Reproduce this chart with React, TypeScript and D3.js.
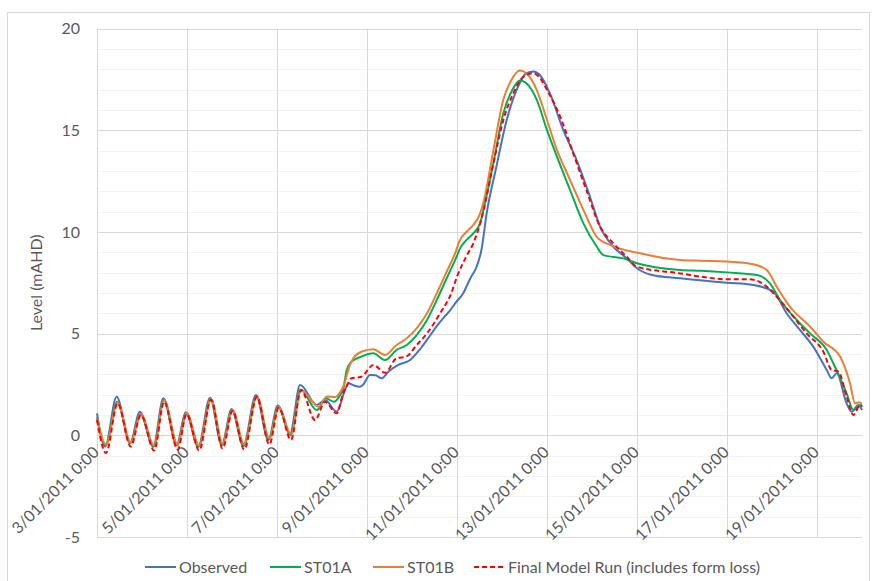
import React, { useEffect, useRef } from 'react';
import * as d3 from 'd3';

// x values are hours since 3/01/2011 0:00, y values are level in mAHD
const dateTicks = [
  '3/01/2011 0:00', '5/01/2011 0:00', '7/01/2011 0:00', '9/01/2011 0:00', '11/01/2011 0:00',
  '13/01/2011 0:00', '15/01/2011 0:00', '17/01/2011 0:00', '19/01/2011 0:00',
];
const tickHours = [0, 48, 96, 144, 192, 240, 288, 336, 384];
const levelTicks = [-5, 0, 5, 10, 15, 20];

const observed: [number, number][] = [
  [0, 1.08], [4.3, -0.56], [10.5, 1.9], [17.6, -0.38], [22.9, 1.16], [30, -0.56], [35.4, 1.82],
  [42.5, -0.48], [47.3, 1.13], [54, -0.56], [60.3, 1.85], [66.5, -0.48], [71.8, 1.29], [78, -0.51],
  [84.8, 1.98], [91.4, -0.23], [96.4, 1.46], [103, 0.1], [108.3, 2.47], [117.2, 1.49], [121.6, 1.74],
  [127.8, 1.16], [132.3, 2.23], [134, 2.56], [137, 2.45], [140.3, 2.39], [142, 2.5], [145.6, 2.96],
  [148.5, 2.95], [151.8, 2.8], [155.4, 3.13], [160.7, 3.46], [167, 3.7], [172, 4.2], [176, 4.69],
  [181, 5.34], [185, 5.8], [188, 6.1], [191, 6.49], [195.4, 7.0], [199, 7.7], [202.5, 8.3],
  [205, 9.1], [207.8, 10.9], [213, 13.2], [218.5, 15.5], [223.8, 16.98], [229, 17.8], [232.7, 17.88],
  [236.3, 17.7], [241.6, 16.8], [248.7, 15.0], [255.8, 13.53], [262.9, 11.73], [268.3, 10.26],
  [275.4, 9.27], [282.5, 8.7], [288, 8.21], [296, 7.88], [311, 7.72], [336, 7.5], [350, 7.39],
  [360.7, 7.06], [367.8, 6.0], [374.9, 5.18], [382, 4.36], [389.2, 3.21], [391.8, 2.8], [394.5, 3.05],
  [399.8, 1.57], [402.5, 1.16], [406, 1.49], [408, 1.24],
];

const st01a: [number, number][] = [
  [0, 0.88], [4.6, -0.5], [10.8, 1.65], [17.8, -0.38], [23.2, 1.05], [30.3, -0.55], [35.6, 1.75],
  [42.8, -0.5], [47.6, 1.1], [54.3, -0.55], [60.6, 1.8], [66.8, -0.45], [72.1, 1.25], [78.3, -0.5],
  [85.1, 1.92], [91.7, -0.2], [96.7, 1.42], [103.3, 0.0], [108.6, 2.25], [117.2, 1.24], [122, 1.82],
  [126.5, 1.65], [129.5, 1.95], [131.4, 2.3], [133.2, 3.21], [135.8, 3.62], [141, 3.87], [147.4, 4.03],
  [153.6, 3.7], [159.8, 4.2], [165.2, 4.44], [170.5, 4.93], [176, 5.67], [181.2, 6.65], [186.5, 7.72],
  [191.8, 8.78], [193.6, 9.19], [197, 9.6], [200.7, 9.93], [204.3, 10.42], [206.5, 11.24],
  [211.4, 13.37], [216.7, 15.83], [221.5, 16.98], [225.6, 17.44], [229, 17.31], [234.5, 16.5],
  [240, 15.0], [245.3, 13.7], [252.3, 12.06], [259.4, 10.42], [266.5, 9.28], [270, 8.86],
  [280.7, 8.7], [288, 8.46], [311, 8.13], [322, 8.09], [336, 8.01], [352, 7.88], [358.9, 7.47],
  [364.3, 6.65], [373.2, 5.67], [380.3, 5.01], [389.2, 4.19], [392.7, 3.54], [399.8, 2.06],
  [403.4, 1.24], [407, 1.49], [408, 1.45],
];

const st01b: [number, number][] = [
  [0, 0.83], [4.8, -0.45], [11, 1.6], [18, -0.35], [23.4, 1.05], [30.5, -0.5], [35.8, 1.72],
  [43, -0.45], [47.8, 1.1], [54.5, -0.5], [60.8, 1.78], [67, -0.42], [72.3, 1.25], [78.5, -0.45],
  [85.3, 1.9], [91.9, -0.15], [96.9, 1.4], [103.5, 0.05], [108.8, 2.2], [118.3, 1.4], [122.5, 1.9],
  [127, 1.88], [129.5, 2.1], [131.4, 2.4], [134.9, 3.46], [136.7, 3.79], [141, 4.11], [147.4, 4.23],
  [153.6, 3.95], [159.8, 4.44], [165.2, 4.77], [170.5, 5.26], [176, 6.0], [181.2, 6.98],
  [186.5, 8.04], [191, 8.95], [193.6, 9.6], [197, 10.0], [200.7, 10.34], [204.3, 10.9],
  [206.5, 11.6], [211.4, 14.0], [216.7, 16.5], [221, 17.47], [225.6, 17.93], [229, 17.8],
  [234.5, 16.98], [240, 15.5], [245.3, 14.03], [252.3, 12.55], [259.4, 11.08], [266.5, 9.76],
  [273.6, 9.36], [289.6, 8.95], [311, 8.62], [322, 8.58], [336, 8.54], [350, 8.41], [357.2, 8.13],
  [362.5, 7.31], [369.6, 6.32], [380.3, 5.34], [387.4, 4.6], [396.3, 3.87], [401.6, 2.56],
  [404.3, 1.57], [406.5, 1.62], [408, 1.55],
];

const finalRun: [number, number][] = [
  [0, 0.75], [4.8, -0.87], [11, 1.57], [18, -0.55], [23.4, 1.0], [30.5, -0.75], [35.8, 1.65],
  [43, -0.7], [47.8, 1.05], [54.5, -0.75], [60.8, 1.75], [67, -0.65], [72.3, 1.2], [78.5, -0.7],
  [85.3, 1.9], [91.9, -0.45], [96.9, 1.35], [103.5, -0.23], [108.8, 2.23], [116.3, 0.75],
  [121.6, 1.65], [127.8, 1.08], [131.4, 2.1], [134, 2.56], [135.5, 2.8], [141, 2.88],
  [147.4, 3.46], [153.6, 3.08], [159.8, 3.79], [165, 3.87], [170.5, 4.44], [176, 5.01],
  [183, 6.0], [189, 7.0], [192, 7.8], [197, 8.8], [200.7, 9.44], [204.3, 10.4], [206.5, 11.2],
  [211.4, 13.37], [216.7, 15.5], [222, 16.8], [227.4, 17.63], [232.7, 17.8], [236, 17.6],
  [240, 16.98], [247, 15.67], [254, 13.86], [261, 12.06], [268.3, 10.26], [275.4, 9.44],
  [282.5, 8.78], [288, 8.29], [311, 7.96], [322, 7.8], [336, 7.67], [348, 7.67], [357.2, 7.31],
  [362.5, 6.81], [371.4, 5.83], [378.5, 5.01], [387.4, 4.11], [391.8, 3.21], [395.4, 3.13],
  [399.8, 1.9], [403.4, 1.0], [407, 1.49], [408, 1.4],
];

const seriesList = [
  { name: 'Observed', data: observed, color: '#4472C4', dash: null },
  { name: 'ST01A', data: st01a, color: '#00B050', dash: null },
  { name: 'ST01B', data: st01b, color: '#ED7D31', dash: null },
  { name: 'Final Model Run (includes form loss)', data: finalRun, color: '#FF0000', dash: '5,3' },
];
const legendX = [145, 270, 373, 474];

const font = 'Lato, "Open Sans", sans-serif';
const fontSize = 16;
const textColor = '#595959';

const LevelChart = () => {
  const svgRef = useRef<SVGSVGElement | null>(null);

  useEffect(() => {
    const svg = d3.select(svgRef.current);
    svg.selectAll('*').remove();

    const x = d3.scaleLinear().domain([0, 408]).range([97, 862]);
    const y = d3.scaleLinear().domain([-5, 20]).range([537, 28.5]);

    svg.append('rect')
      .attr('x', 7.5).attr('y', 12.5).attr('width', 862).attr('height', 575)
      .attr('fill', '#fff').attr('stroke', '#D9D9D9');

    // minor gridlines
    svg.append('g').selectAll('line')
      .data(d3.range(-5, 21).filter((v) => v % 5 !== 0))
      .enter().append('line')
      .attr('x1', x(0)).attr('x2', x(408))
      .attr('y1', (d) => Math.round(y(d)) + 0.5).attr('y2', (d) => Math.round(y(d)) + 0.5)
      .attr('stroke', '#F2F2F2');

    // major gridlines
    svg.append('g').selectAll('line')
      .data(levelTicks)
      .enter().append('line')
      .attr('x1', x(0)).attr('x2', x(408))
      .attr('y1', (d) => Math.round(y(d)) + 0.5).attr('y2', (d) => Math.round(y(d)) + 0.5)
      .attr('stroke', '#D9D9D9');

    svg.append('g').selectAll('line')
      .data(tickHours)
      .enter().append('line')
      .attr('x1', (d) => Math.round(x(d)) + 0.5).attr('x2', (d) => Math.round(x(d)) + 0.5)
      .attr('y1', y(20)).attr('y2', y(-5))
      .attr('stroke', '#D9D9D9');

    svg.append('g').selectAll('text')
      .data(levelTicks)
      .enter().append('text')
      .attr('x', 80).attr('y', (d) => y(d))
      .attr('dy', '0.35em')
      .attr('text-anchor', 'end')
      .attr('font-family', font).attr('font-size', fontSize).attr('fill', textColor)
      .text((d) => d);

    svg.append('text')
      .attr('transform', `translate(36, ${y(7.5)}) rotate(-90)`)
      .attr('text-anchor', 'middle')
      .attr('dy', '0.35em')
      .attr('font-family', font).attr('font-size', fontSize).attr('fill', textColor)
      .text('Level (mAHD)');

    svg.append('g').selectAll('text')
      .data(tickHours)
      .enter().append('text')
      .attr('transform', (d) => `translate(${x(d) + 3}, ${y(0) + 18}) rotate(-45)`)
      .attr('text-anchor', 'end')
      .attr('font-family', font).attr('font-size', fontSize).attr('fill', textColor)
      .text((d, i) => dateTicks[i]);

    const line = d3.line<[number, number]>()
      .x((d) => x(d[0]))
      .y((d) => y(d[1]))
      .curve(d3.curveMonotoneX);

    seriesList.forEach((s) => {
      svg.append('path')
        .datum(s.data)
        .attr('d', line)
        .attr('fill', 'none')
        .attr('stroke', s.color)
        .attr('stroke-width', 2)
        .attr('stroke-dasharray', s.dash)
        .attr('stroke-linejoin', 'round');
    });

    const legend = svg.append('g');
    seriesList.forEach((s, i) => {
      legend.append('line')
        .attr('x1', legendX[i]).attr('x2', legendX[i] + 31)
        .attr('y1', 567).attr('y2', 567)
        .attr('stroke', s.color).attr('stroke-width', 2)
        .attr('stroke-dasharray', s.dash);
      legend.append('text')
        .attr('x', legendX[i] + 34).attr('y', 567)
        .attr('dy', '0.35em')
        .attr('font-family', font).attr('font-size', fontSize).attr('fill', textColor)
        .text(s.name);
    });
  }, []);

  return (
    <svg ref={svgRef} width={877} height={581}
      style={{ position: 'absolute', left: 0, top: 0, display: 'block' }} />
  );
};

export default function App() {
  return <LevelChart />;
}
